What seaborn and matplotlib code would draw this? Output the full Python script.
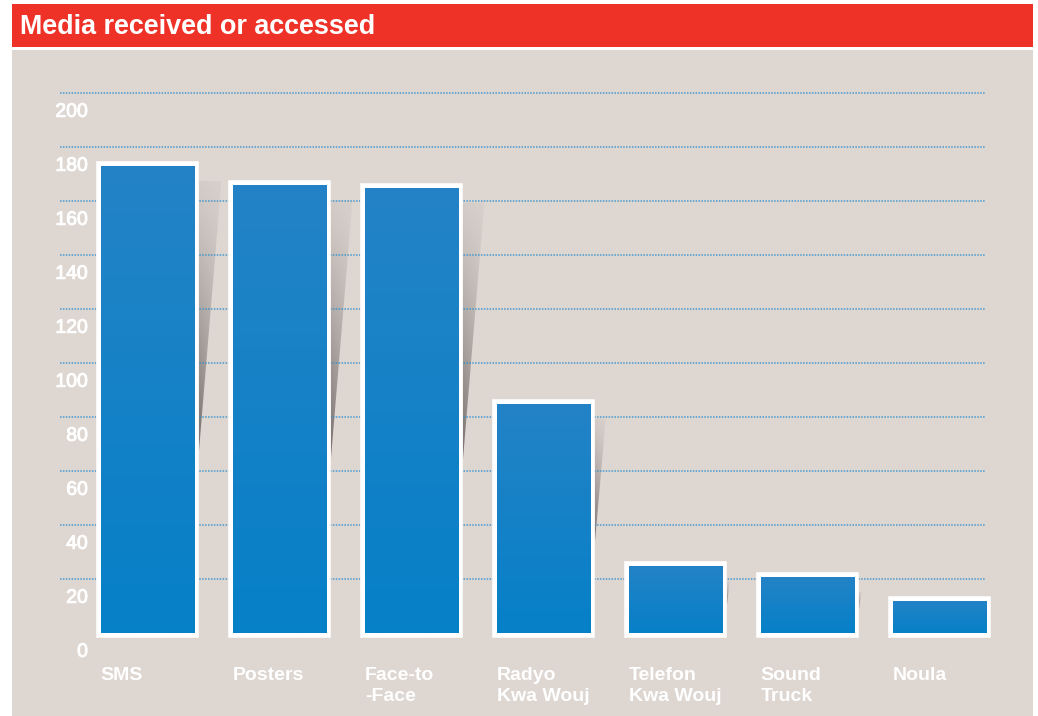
import numpy as np
import matplotlib
matplotlib.use("Agg")
import matplotlib.pyplot as plt
import matplotlib.transforms as mtransforms
import matplotlib.patheffects as pe
from matplotlib.patches import Rectangle, Polygon
import seaborn as sns

# Survey tallies: how respondents received or accessed information
categories = ["SMS", "Posters", "Face-to\n-Face", "Radyo\nKwa Wouj",
              "Telefon\nKwa Wouj", "Sound\nTruck", "Noula"]
counts = [173, 166, 165, 85, 25, 21, 12]
y_ticks = [0, 20, 40, 60, 80, 100, 120, 140, 160, 180, 200]
title = "Media received or accessed"

W, H, DPI = 1038, 716, 100
RED = "#ee3227"
PANEL = "#ded6d1"
GRID = "#2f8fd0"
BLUE_TOP = np.array([36, 131, 198]) / 255
BLUE_BOT = np.array([6, 128, 200]) / 255

sns.set_style("white")
plt.rcParams["font.family"] = ["Liberation Sans", "DejaVu Sans"]

fig = plt.figure(figsize=(W / DPI, H / DPI), dpi=DPI)
fig.patch.set_facecolor("white")


def fx(px):
    return px / W


def fy(py):
    return 1 - py / H


# header band and panel background
fig.patches.append(Rectangle((fx(12), fy(46.7)), fx(1033) - fx(12), fy(4) - fy(46.7),
                             transform=fig.transFigure, facecolor=RED, edgecolor="none", zorder=-2))
fig.patches.append(Rectangle((fx(12), 0), fx(1033) - fx(12), fy(49.5),
                             transform=fig.transFigure, facecolor=PANEL, edgecolor="none", zorder=-2))
fig.text(fx(20), fy(34), title, color="white", fontsize=19.4, fontweight="bold",
         ha="left", va="baseline")

ax_left, ax_right = 60, 985
ax_top, ax_bottom = 93.3, 633.3
ax = fig.add_axes([fx(ax_left), fy(ax_bottom), fx(ax_right) - fx(ax_left), fy(ax_top) - fy(ax_bottom)])
ax.set_facecolor("none")
ax.set_zorder(1)

bar_w = 0.7045            # blue body width in category units
border_px = 4.8
unit_px = 132.0
border_u = border_px / unit_px

sns.barplot(x=categories, y=counts, ax=ax, width=bar_w, color="white", saturation=1,
            edgecolor="white", linewidth=2 * border_px * 72 / DPI)

ax.set_xlim(-0.661, 6.346)
ax.set_ylim(0, 200)

for bar in ax.patches:
    bar.set_zorder(2)
    bar.set_clip_on(False)
    x0 = bar.get_x()
    x1 = x0 + bar.get_width()
    h = bar.get_height()
    # vertical blue gradient filling the bar body
    grad = np.linspace(0, 1, 256)[:, None]
    rgb = BLUE_TOP[None, None, :] * (1 - grad[..., None]) + BLUE_BOT[None, None, :] * grad[..., None]
    rgb = np.repeat(rgb, 2, axis=1)
    im = ax.imshow(rgb, extent=(x0, x1, 0, h), aspect="auto", zorder=3,
                   interpolation="bilinear")
    im.set_clip_path(bar)

    # soft drop shadow to the right of the bar
    xr = x1 + border_u
    top = h - 5.5
    bot = h * 0.38
    sw = h / 1000.0
    if top > bot and sw > 0:
        poly = Polygon([(xr, top), (xr + sw, top), (xr, bot)], closed=True,
                       facecolor="none", edgecolor="none")
        ax.add_patch(poly)
        ny, nx = 200, 40
        rows = np.linspace(0, 1, ny)[:, None]
        cols = np.linspace(0, 1, nx)[None, :]
        alpha = (0.08 + 0.72 * rows ** 1.2) * (1 - 0.45 * cols)
        rgba = np.zeros((ny, nx, 4))
        rgba[..., 0] = 90 / 255
        rgba[..., 1] = 84 / 255
        rgba[..., 2] = 82 / 255
        rgba[..., 3] = alpha
        sim = ax.imshow(rgba, extent=(xr, xr + sw, bot, top), aspect="auto", zorder=0.3,
                        interpolation="bilinear")
        sim.set_clip_path(poly)

ax.set_xlim(-0.661, 6.346)
ax.set_ylim(0, 200)

# dotted horizontal guides (none on the baseline)
ax.set_axisbelow(True)
ax.set_yticks(y_ticks)
ax.yaxis.grid(True, color=GRID, linestyle=(0, (1.0, 0.9)), linewidth=1.1, alpha=0.85)
ax.xaxis.grid(False)
for gl in ax.yaxis.get_gridlines():
    gl.set_clip_on(False)
ax.yaxis.get_gridlines()[0].set_visible(False)
ax.set_yticklabels([str(v) for v in y_ticks], color="white", fontsize=14)
ax.tick_params(axis="y", length=0, pad=0)
for lab in ax.get_yticklabels():
    lab.set_path_effects([pe.withStroke(linewidth=0.7, foreground="white")])
    lab.set_transform(lab.get_transform() +
                      mtransforms.ScaledTranslation(28 / DPI, -17 / DPI, fig.dpi_scale_trans))

ax.set_xticks(range(len(categories)))
ax.set_xticklabels(categories, color="white", fontsize=14, fontweight="bold",
                   ha="left", linespacing=1.36)
ax.tick_params(axis="x", length=0, pad=24)
for lab in ax.get_xticklabels():
    lab.set_transform(lab.get_transform() +
                      mtransforms.ScaledTranslation(-46.5 / DPI, 0, fig.dpi_scale_trans))

ax.set_xlabel("")
ax.set_ylabel("")
for s in ax.spines.values():
    s.set_visible(False)

fig.savefig("out.png", dpi=DPI)
